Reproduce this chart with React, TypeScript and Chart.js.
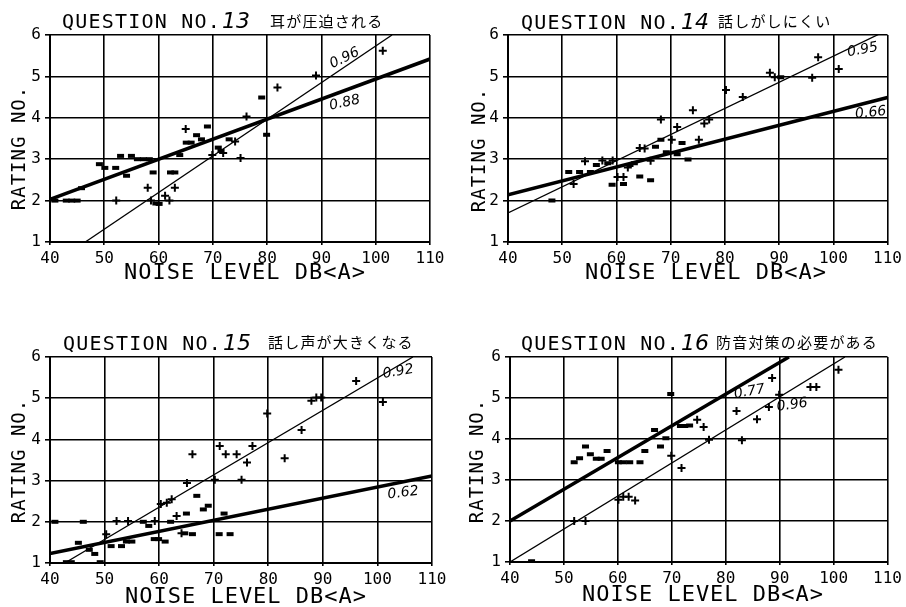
import { useEffect, useRef } from 'react';
import { Chart, registerables } from 'chart.js';

Chart.register(...registerables);

// ---------- shared axis data ----------
const xMin = 40;
const xMax = 110;
const yMin = 1;
const yMax = 6;
const xStep = 10;
const yStep = 1;
const xAxisTitle = 'NOISE LEVEL DB<A>';
const yAxisTitle = 'RATING NO.';
const titlePrefix = 'QUESTION NO.';

// ---------- Question 13 ----------
const q13Number = '13';
const q13Subtitle = '耳が圧迫される';
const q13CrossX = [52.2, 58.0, 58.6, 61.2, 62.0, 63.0, 65.0, 69.9, 71.9, 74.1, 75.1, 76.2, 81.9, 89.0, 101.3];
const q13CrossY = [2.0, 2.31, 2.0, 2.12, 2.0, 2.31, 3.73, 3.1, 3.15, 3.43, 3.03, 4.03, 4.73, 5.02, 5.62];
const q13DashX = [40.9, 43.0, 44.0, 45.0, 45.8, 49.1, 50.1, 52.1, 53.0, 54.1, 55.0, 56.1, 57.2, 58.3, 59.0, 59.5, 60.1, 62.2, 63.0, 63.9, 65.1, 66.0, 67.0, 67.9, 69.0, 71.0, 71.5, 73.0, 79.0, 79.9];
const q13DashY = [2.0, 2.0, 2.0, 2.0, 2.3, 2.88, 2.79, 2.79, 3.08, 2.6, 3.08, 3.0, 3.0, 3.0, 2.68, 1.93, 1.92, 2.68, 2.68, 3.1, 3.4, 3.4, 3.58, 3.48, 3.79, 3.28, 3.2, 3.48, 4.49, 3.59];
const q13ThinX = [46.5, 103.0];
const q13ThinY = [1.0, 6.0];
const q13ThickX = [40, 110];
const q13ThickY = [2.03, 5.42];
const q13ThinR = '0.96';
const q13ThickR = '0.88';
const q13ThinLabelAt = [94.3, 5.44];
const q13ThickLabelAt = [94.3, 4.36];

// ---------- Question 14 ----------
const q14Number = '14';
const q14Subtitle = '話しがしにくい';
const q14CrossX = [52.1, 54.2, 57.4, 59.3, 60.2, 61.3, 62.1, 64.3, 65.2, 66.3, 68.2, 70.2, 71.2, 74.1, 75.2, 76.2, 77.1, 80.2, 83.3, 88.3, 89.2, 96.1, 97.2, 101.0];
const q14CrossY = [2.4, 2.95, 2.97, 2.97, 2.57, 2.57, 2.8, 3.27, 3.26, 2.96, 3.96, 3.47, 3.78, 4.18, 3.47, 3.86, 3.96, 4.67, 4.5, 5.09, 4.98, 4.97, 5.46, 5.18];
const q14DashX = [48.1, 51.2, 53.2, 55.2, 56.3, 58.4, 59.2, 61.3, 62.5, 63.3, 64.3, 66.3, 67.2, 68.2, 69.2, 71.2, 72.1, 73.2, 90.3];
const q14DashY = [2.0, 2.69, 2.69, 2.69, 2.86, 2.9, 2.38, 2.4, 2.86, 2.9, 2.58, 2.49, 3.3, 3.47, 3.17, 3.12, 3.39, 2.99, 4.98];
const q14ThinX = [40, 110];
const q14ThinY = [1.7, 6.12];
const q14ThickX = [40, 110];
const q14ThickY = [2.14, 4.49];
const q14ThinR = '0.95';
const q14ThickR = '0.66';
const q14ThinLabelAt = [105.4, 5.64];
const q14ThickLabelAt = [106.9, 4.12];

// ---------- Question 15 ----------
const q15Number = '15';
const q15Subtitle = '話し声が大きくなる';
const q15CrossX = [50.3, 52.2, 54.3, 59.2, 60.3, 61.4, 62.3, 63.2, 64.1, 65.1, 66.1, 70.2, 71.1, 72.2, 74.2, 75.1, 76.1, 77.1, 79.8, 83.0, 86.1, 87.9, 88.8, 89.7, 96.1, 101.0];
const q15CrossY = [1.7, 2.02, 2.02, 2.02, 2.43, 2.46, 2.55, 2.14, 1.72, 2.94, 3.64, 3.02, 3.84, 3.64, 3.64, 3.02, 3.44, 3.84, 4.63, 3.54, 4.23, 4.94, 5.02, 5.02, 5.42, 4.91];
const q15DashX = [40.9, 43.0, 43.9, 45.2, 46.1, 47.2, 48.2, 49.2, 51.2, 53.1, 54.0, 55.0, 57.1, 58.1, 59.1, 59.9, 61.1, 62.1, 64.7, 65.0, 66.1, 66.9, 68.1, 69.0, 71.0, 71.9, 73.0];
const q15DashY = [2.0, 1.02, 1.02, 1.49, 2.0, 1.32, 1.22, 1.02, 1.41, 1.41, 1.52, 1.52, 2.0, 1.9, 1.58, 1.58, 1.52, 2.0, 1.72, 2.2, 1.7, 2.63, 2.3, 2.39, 1.7, 2.2, 1.7];
const q15ThinX = [42.7, 106.5];
const q15ThinY = [1.0, 6.0];
const q15ThickX = [40, 110];
const q15ThickY = [1.23, 3.11];
const q15ThinR = '0.92';
const q15ThickR = '0.62';
const q15ThinLabelAt = [103.8, 5.64];
const q15ThickLabelAt = [104.7, 2.7];

// ---------- Question 16 ----------
const q16Number = '16';
const q16Subtitle = '防音対策の必要がある';
const q16CrossX = [51.9, 54.0, 60.1, 61.0, 62.0, 63.2, 69.9, 71.8, 74.7, 75.9, 76.9, 82.0, 83.0, 85.8, 88.0, 88.6, 89.9, 95.7, 96.8, 100.9];
const q16CrossY = [2.0, 2.0, 2.52, 2.59, 2.59, 2.5, 3.59, 3.29, 4.47, 4.29, 3.98, 4.68, 3.97, 4.48, 4.78, 5.49, 5.08, 5.27, 5.27, 5.69];
const q16DashX = [44.0, 51.9, 52.9, 54.0, 54.9, 56.0, 56.9, 58.0, 60.1, 61.0, 62.2, 64.1, 65.0, 66.8, 67.9, 68.9, 69.8, 71.6, 72.4, 73.3];
const q16DashY = [1.02, 3.43, 3.53, 3.82, 3.63, 3.52, 3.52, 3.71, 3.43, 3.43, 3.43, 3.43, 3.71, 4.22, 3.82, 4.02, 5.1, 4.32, 4.32, 4.33];
const q16ThinX = [40, 102.1];
const q16ThinY = [1.0, 6.0];
const q16ThickX = [40, 91.7];
const q16ThickY = [2.0, 6.0];
const q16ThinR = '0.96';
const q16ThickR = '0.77';
const q16ThinLabelAt = [92.3, 4.83];
const q16ThickLabelAt = [84.4, 5.15];

const zip = (xs: number[], ys: number[]) => xs.map((x, i) => ({ x, y: ys[i] }));

type Panel = {
  num: string;
  sub: string;
  crossX: number[]; crossY: number[];
  dashX: number[]; dashY: number[];
  thinX: number[]; thinY: number[];
  thickX: number[]; thickY: number[];
  thinR: string; thickR: string;
  thinAt: number[]; thickAt: number[];
  thinRot: number; thickRot: number;
  // layout (pixels)
  left: number; top: number; w: number; h: number;
  area: { l: number; t: number; r: number; b: number };
  titleX: number; titleY: number; subX: number; subY: number;
  yLab: { x: number; y: number };
  xLab: { x: number; y: number };
};

const panels: Panel[] = [
  {
    num: q13Number, sub: q13Subtitle,
    crossX: q13CrossX, crossY: q13CrossY, dashX: q13DashX, dashY: q13DashY,
    thinX: q13ThinX, thinY: q13ThinY, thickX: q13ThickX, thickY: q13ThickY,
    thinR: q13ThinR, thickR: q13ThickR, thinAt: q13ThinLabelAt, thickAt: q13ThickLabelAt,
    thinRot: -26, thickRot: -12,
    left: 0, top: 0, w: 453, h: 300,
    area: { l: 50, t: 35, r: 430, b: 242 },
    titleX: 62, titleY: 28, subX: 270, subY: 27,
    yLab: { x: 20, y: 148 }, xLab: { x: 245, y: 273 },
  },
  {
    num: q14Number, sub: q14Subtitle,
    crossX: q14CrossX, crossY: q14CrossY, dashX: q14DashX, dashY: q14DashY,
    thinX: q14ThinX, thinY: q14ThinY, thickX: q14ThickX, thickY: q14ThickY,
    thinR: q14ThinR, thickR: q14ThickR, thinAt: q14ThinLabelAt, thickAt: q14ThickLabelAt,
    thinRot: -10, thickRot: -6,
    left: 453, top: 0, w: 453, h: 300,
    area: { l: 55, t: 35, r: 437, b: 242 },
    titleX: 68, titleY: 29, subX: 265, subY: 27,
    yLab: { x: 27, y: 150 }, xLab: { x: 253, y: 273 },
  },
  {
    num: q15Number, sub: q15Subtitle,
    crossX: q15CrossX, crossY: q15CrossY, dashX: q15DashX, dashY: q15DashY,
    thinX: q15ThinX, thinY: q15ThinY, thickX: q15ThickX, thickY: q15ThickY,
    thinR: q15ThinR, thickR: q15ThickR, thinAt: q15ThinLabelAt, thickAt: q15ThickLabelAt,
    thinRot: -10, thickRot: -7,
    left: 0, top: 300, w: 453, h: 307,
    area: { l: 50, t: 57, r: 432, b: 263 },
    titleX: 63, titleY: 50, subX: 268, subY: 48,
    yLab: { x: 20, y: 161 }, xLab: { x: 246, y: 297 },
  },
  {
    num: q16Number, sub: q16Subtitle,
    crossX: q16CrossX, crossY: q16CrossY, dashX: q16DashX, dashY: q16DashY,
    thinX: q16ThinX, thinY: q16ThinY, thickX: q16ThickX, thickY: q16ThickY,
    thinR: q16ThinR, thickR: q16ThickR, thinAt: q16ThinLabelAt, thickAt: q16ThickLabelAt,
    thinRot: -8, thickRot: -10,
    left: 453, top: 300, w: 453, h: 307,
    area: { l: 57, t: 57, r: 440, b: 262 },
    titleX: 68, titleY: 50, subX: 263, subY: 48,
    yLab: { x: 25, y: 161 }, xLab: { x: 250, y: 295 },
  },
];

const MONO = "'DejaVu Sans Mono', monospace";
const HAND = "'DejaVu Sans', sans-serif";
const CJK = "'Noto Sans CJK JP', sans-serif";

function PanelChart({ p }: { p: Panel }) {
  const ref = useRef<HTMLCanvasElement | null>(null);
  useEffect(() => {
    const canvas = ref.current;
    if (!canvas) return;
    const textPlugin = {
      id: 'panelText',
      afterDraw(chart: any) {
        const ctx = chart.ctx as CanvasRenderingContext2D;
        ctx.save();
        ctx.fillStyle = '#000';
        // title
        ctx.font = `20px ${MONO}`;
        (ctx as any).letterSpacing = '1.2px';
        ctx.textAlign = 'left';
        ctx.textBaseline = 'alphabetic';
        ctx.fillText(titlePrefix, p.titleX, p.titleY);
        const tw = ctx.measureText(titlePrefix).width;
        (ctx as any).letterSpacing = '0px';
        ctx.font = `italic 22px ${HAND}`;
        ctx.fillText(p.num, p.titleX + tw + 1, p.titleY);
        // subtitle
        ctx.font = `15px ${CJK}`;
        (ctx as any).letterSpacing = '1.2px';
        ctx.fillText(p.sub, p.subX, p.subY);
        // x axis title
        ctx.font = `22px ${MONO}`;
        (ctx as any).letterSpacing = '1px';
        ctx.textAlign = 'center';
        ctx.textBaseline = 'middle';
        ctx.fillText(xAxisTitle, p.xLab.x, p.xLab.y);
        // y axis title
        ctx.save();
        ctx.translate(p.yLab.x, p.yLab.y);
        ctx.rotate(-Math.PI / 2);
        ctx.font = `19px ${MONO}`;
        (ctx as any).letterSpacing = '1px';
        ctx.fillText(yAxisTitle, 0, 0);
        ctx.restore();
        // correlation labels
        (ctx as any).letterSpacing = '0px';
        const xs = chart.scales.x;
        const ys = chart.scales.y;
        const drawR = (txt: string, at: number[], rot: number) => {
          ctx.save();
          ctx.translate(xs.getPixelForValue(at[0]), ys.getPixelForValue(at[1]));
          ctx.rotate((rot * Math.PI) / 180);
          ctx.font = `italic 14px ${HAND}`;
          ctx.textAlign = 'center';
          ctx.textBaseline = 'middle';
          ctx.fillText(txt, 0, 0);
          ctx.restore();
        };
        drawR(p.thinR, p.thinAt, p.thinRot);
        drawR(p.thickR, p.thickAt, p.thickRot);
        ctx.restore();
      },
    };
    const chart = new Chart(canvas, {
      type: 'scatter',
      data: {
        datasets: [
          {
            type: 'line',
            data: zip(p.thickX, p.thickY),
            borderColor: '#000',
            borderWidth: 3.5,
            pointRadius: 0,
            fill: false,
          } as any,
          {
            type: 'line',
            data: zip(p.thinX, p.thinY),
            borderColor: '#000',
            borderWidth: 1.3,
            pointRadius: 0,
            fill: false,
          } as any,
          {
            data: zip(p.crossX, p.crossY),
            pointStyle: 'cross',
            pointRadius: 4,
            borderColor: '#000',
            borderWidth: 2,
          } as any,
          {
            data: zip(p.dashX, p.dashY),
            pointStyle: 'line',
            pointRadius: 3.5,
            borderColor: '#000',
            borderWidth: 4,
          } as any,
        ],
      },
      options: {
        animation: false,
        responsive: false,
        devicePixelRatio: 1,
        layout: { padding: { left: 0, top: p.area.t, right: p.w - p.area.r, bottom: 0 } },
        plugins: { legend: { display: false }, tooltip: { enabled: false }, title: { display: false } },
        scales: {
          x: {
            type: 'linear',
            min: xMin,
            max: xMax,
            ticks: {
              stepSize: xStep,
              color: '#000',
              font: { family: MONO, size: 16 },
              padding: 4,
              maxRotation: 0,
            },
            grid: { color: '#000', lineWidth: 1.6, drawTicks: true, tickLength: 3 },
            border: { display: true, color: '#000', width: 2 },
            afterFit: (s: any) => { s.height = p.h - p.area.b; },
          },
          y: {
            type: 'linear',
            min: yMin,
            max: yMax,
            ticks: {
              stepSize: yStep,
              color: '#000',
              font: { family: MONO, size: 16 },
              padding: 4,
            },
            grid: { color: '#000', lineWidth: 1.6, drawTicks: true, tickLength: 5 },
            border: { display: true, color: '#000', width: 2 },
            afterFit: (s: any) => { s.width = p.area.l; },
          },
        },
      } as any,
      plugins: [textPlugin],
    });
    return () => chart.destroy();
  }, [p]);
  return (
    <canvas
      ref={ref}
      width={p.w}
      height={p.h}
      style={{ position: 'absolute', left: p.left, top: p.top, width: p.w, height: p.h }}
    />
  );
}

export default function App() {
  return (
    <div style={{ position: 'absolute', left: 0, top: 0, width: 906, height: 607, background: '#fff' }}>
      {panels.map((p) => (
        <PanelChart key={p.num} p={p} />
      ))}
    </div>
  );
}
